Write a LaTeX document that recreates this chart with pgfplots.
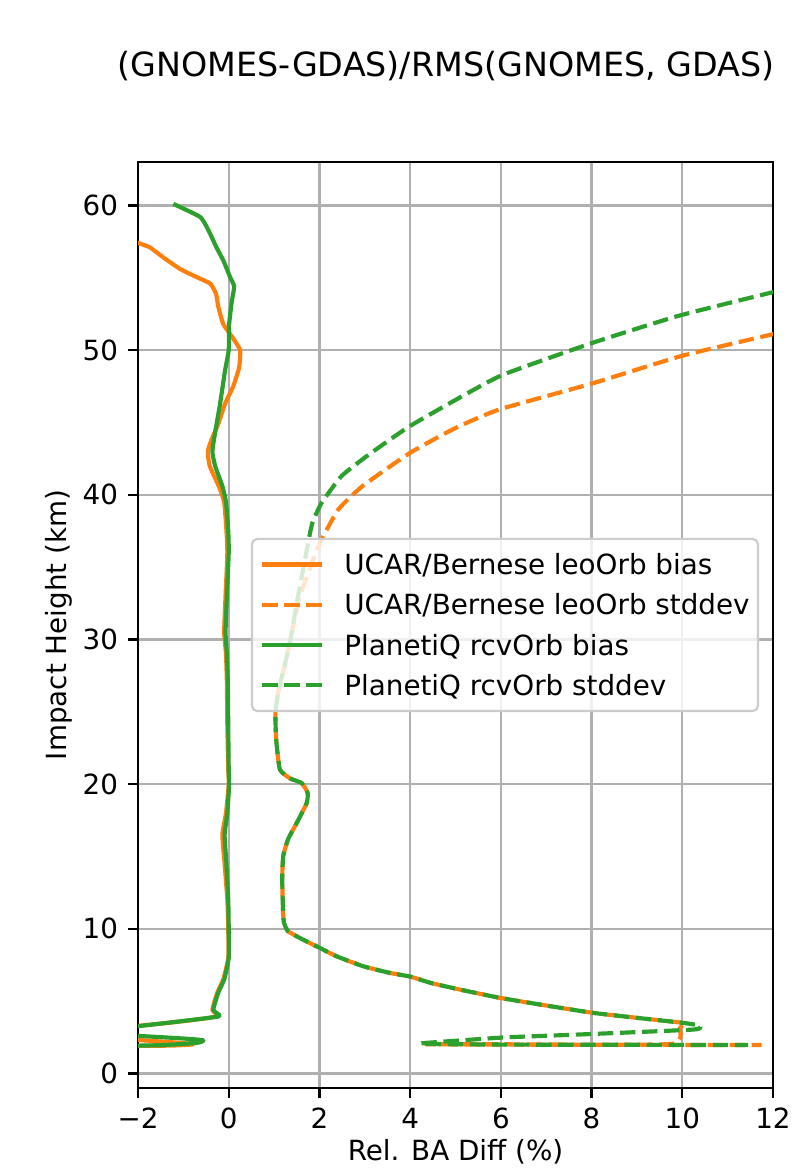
\documentclass[border=0pt]{standalone}
\usepackage{fontspec}
\setmainfont{DejaVu Sans}
\usepackage{pgfplots}
\pgfplotsset{compat=1.18}

\definecolor{mplorange}{HTML}{FF7F0E}
\definecolor{mplgreen}{HTML}{2CA02C}
\definecolor{gridgray}{HTML}{B0B0B0}
\definecolor{framegray}{HTML}{CCCCCC}

% bias profiles (x: relative difference in %, y: impact height in km)
\pgfplotstableread{
x y
-2.40 57.9
-1.99 57.4
-1.74 57.1
-1.44 56.4
-1.07 55.6
-0.71 55.05
-0.41 54.6
-0.28 53.9
-0.23 53.0
-0.12 51.8
0.10 50.8
0.25 50.0
0.23 48.8
0.10 47.5
-0.08 46.3
-0.23 44.9
-0.38 43.8
-0.46 43.0
-0.42 42.0
-0.22 40.6
-0.10 39.5
-0.05 37.5
-0.03 36.0
-0.07 33.0
-0.10 30.5
-0.06 29.0
-0.04 27.0
-0.03 24.0
-0.01 21.0
0.00 20.0
-0.06 18.0
-0.14 16.5
-0.09 14.5
-0.03 12.0
-0.01 10.0
-0.01 8.0
-0.12 6.5
-0.25 5.6
-0.36 4.4
-0.25 3.95
-1.10 3.58
-3.00 2.95
-3.00 2.55
-1.20 2.15
-0.78 2.02
-1.30 1.93
-3.00 1.88
}\ucarbias

\pgfplotstableread{
x y
-1.22 60.1
-0.63 59.2
-0.45 58.3
-0.27 57.1
-0.12 56.2
0.03 55.05
0.12 54.4
0.07 53.4
0.01 51.8
0.00 50.0
-0.08 48.6
-0.19 46.3
-0.30 44.3
-0.36 43.0
-0.30 42.0
-0.14 40.6
-0.06 39.5
-0.01 37.5
0.00 36.0
-0.04 33.0
-0.07 30.5
-0.04 29.0
-0.02 27.0
-0.01 24.0
0.00 21.0
0.01 20.0
-0.03 18.0
-0.09 16.5
-0.05 14.5
-0.01 12.0
0.00 10.0
0.00 8.0
-0.10 6.5
-0.23 5.6
-0.34 4.4
-0.21 3.96
-1.07 3.61
-2.00 3.27
-3.00 2.90
-3.00 2.70
-2.00 2.60
-1.00 2.42
-0.56 2.30
-0.70 2.12
-1.50 1.96
-3.00 1.88
}\piqbias

% standard deviation profiles
\pgfplotstableread{
x y
13.00 51.8
12.00 51.1
9.99 49.6
8.02 47.7
5.97 45.9
4.99 44.6
4.00 42.9
2.95 40.6
2.42 39.0
2.08 37.1
1.92 36.0
1.72 34.3
1.55 32.8
1.36 30.0
1.22 28.0
1.10 26.5
1.03 25.0
1.04 23.5
1.06 22.6
1.13 21.0
1.35 20.4
1.61 20.07
1.74 19.4
1.72 18.7
1.53 17.5
1.31 16.2
1.20 15.0
1.18 13.5
1.19 12.0
1.20 11.0
1.22 10.4
1.31 9.83
1.64 9.25
2.01 8.68
2.38 8.10
2.97 7.41
3.56 6.95
4.00 6.70
4.47 6.25
5.10 5.80
5.98 5.23
7.00 4.70
8.04 4.19
9.00 3.85
10.02 3.50
10.08 3.35
9.95 3.17
9.75 2.04
6.00 2.02
4.35 2.02
7.00 1.99
11.75 1.97
}\ucarstd

\pgfplotstableread{
x y
13.00 54.6
12.00 54.0
9.91 52.36
8.02 50.5
6.05 48.3
5.14 46.8
3.97 44.7
3.10 42.8
2.49 41.3
2.04 39.4
1.84 38.0
1.74 36.5
1.62 34.5
1.50 32.5
1.36 30.0
1.22 28.0
1.10 26.5
1.03 25.0
1.04 23.5
1.06 22.6
1.13 21.0
1.35 20.4
1.61 20.07
1.74 19.4
1.72 18.7
1.53 17.5
1.31 16.2
1.20 15.0
1.18 13.5
1.19 12.0
1.20 11.0
1.22 10.4
1.31 9.83
1.64 9.25
2.01 8.68
2.38 8.10
2.97 7.41
3.56 6.95
4.00 6.70
4.47 6.25
5.10 5.80
5.98 5.23
7.00 4.70
8.04 4.19
9.00 3.85
10.02 3.50
10.39 3.30
10.24 3.04
7.67 2.69
6.05 2.49
4.36 2.12
4.30 2.05
6.00 2.00
8.00 1.99
11.45 1.97
}\piqstd

\begin{document}
\begin{tikzpicture}
\useasboundingbox (-49.68pt,-28.8pt) rectangle (239.4pt,391.68pt);
\clip (-49.68pt,-28.8pt) rectangle (239.4pt,391.68pt);
\begin{axis}[
  name=ax, at={(0,0)}, anchor=south west,
  scale only axis, width=228.6pt, height=333.36pt,
  xmin=-2, xmax=12, ymin=-1, ymax=63,
  xtick={-2,0,2,4,6,8,10,12},
  xticklabels={−2,0,2,4,6,8,10,12},
  ytick={0,10,20,30,40,50,60},
  yticklabels={0,10,20,30,40,50,60},
  tick align=outside, xtick pos=bottom, ytick pos=left,
  major tick length=3.5pt,
  every tick/.style={black, line width=0.8pt},
  axis line style={black, line width=0.8pt},
  grid=major, major grid style={gridgray, line width=0.8pt},
  tick label style={font=\fontsize{10}{12}\selectfont},
  xticklabel style={inner sep=0pt, anchor=north, yshift=-3.5pt},
  yticklabel style={inner sep=0pt, anchor=east, xshift=-3.5pt},
  legend cell align=left,
  legend image code/.code={\draw[#1, sharp plot] (0pt,0pt) -- (21.6pt,0pt);},
  legend style={
    at={(1,0.5)}, anchor=east, xshift=-5pt,
    draw=framegray, line width=0.8pt, rounded corners=2pt,
    fill=white, fill opacity=0.8, text opacity=1,
    inner xsep=3pt, inner ysep=5.25pt,
    row sep=6.5pt, column sep=7.2pt,
    font=\fontsize{10}{12}\selectfont,
    nodes={inner sep=0pt, text height=7.6pt, text depth=0.4pt},
  },
  every axis plot/.append style={line width=1.5pt, line join=round, no marks, smooth, tension=0.3},
]
\addplot[mplorange] table[x=x,y=y] {\ucarbias};
\addlegendentry{UCAR/Bernese leoOrb bias}
\addplot[mplorange, dash pattern=on 5.55pt off 2.4pt] table[x=x,y=y] {\ucarstd};
\addlegendentry{UCAR/Bernese leoOrb stddev}
\addplot[mplgreen] table[x=x,y=y] {\piqbias};
\addlegendentry{PlanetiQ rcvOrb bias}
\addplot[mplgreen, dash pattern=on 5.55pt off 2.4pt] table[x=x,y=y] {\piqstd};
\addlegendentry{PlanetiQ rcvOrb stddev}
\end{axis}
\node[font=\fontsize{12}{14.4}\selectfont, anchor=base] at (110.9pt,364.3pt) {(GNOMES-GDAS)/RMS(GNOMES, GDAS)};
\node[font=\fontsize{10}{12}\selectfont, anchor=base, rotate=90] at (-25.6pt,166.68pt) {Impact Height (km)};
\node[font=\fontsize{10}{12}\selectfont, anchor=base] at (114.3pt,-26.0pt) {Rel. BA Diff (\%)};
\end{tikzpicture}
\end{document}
